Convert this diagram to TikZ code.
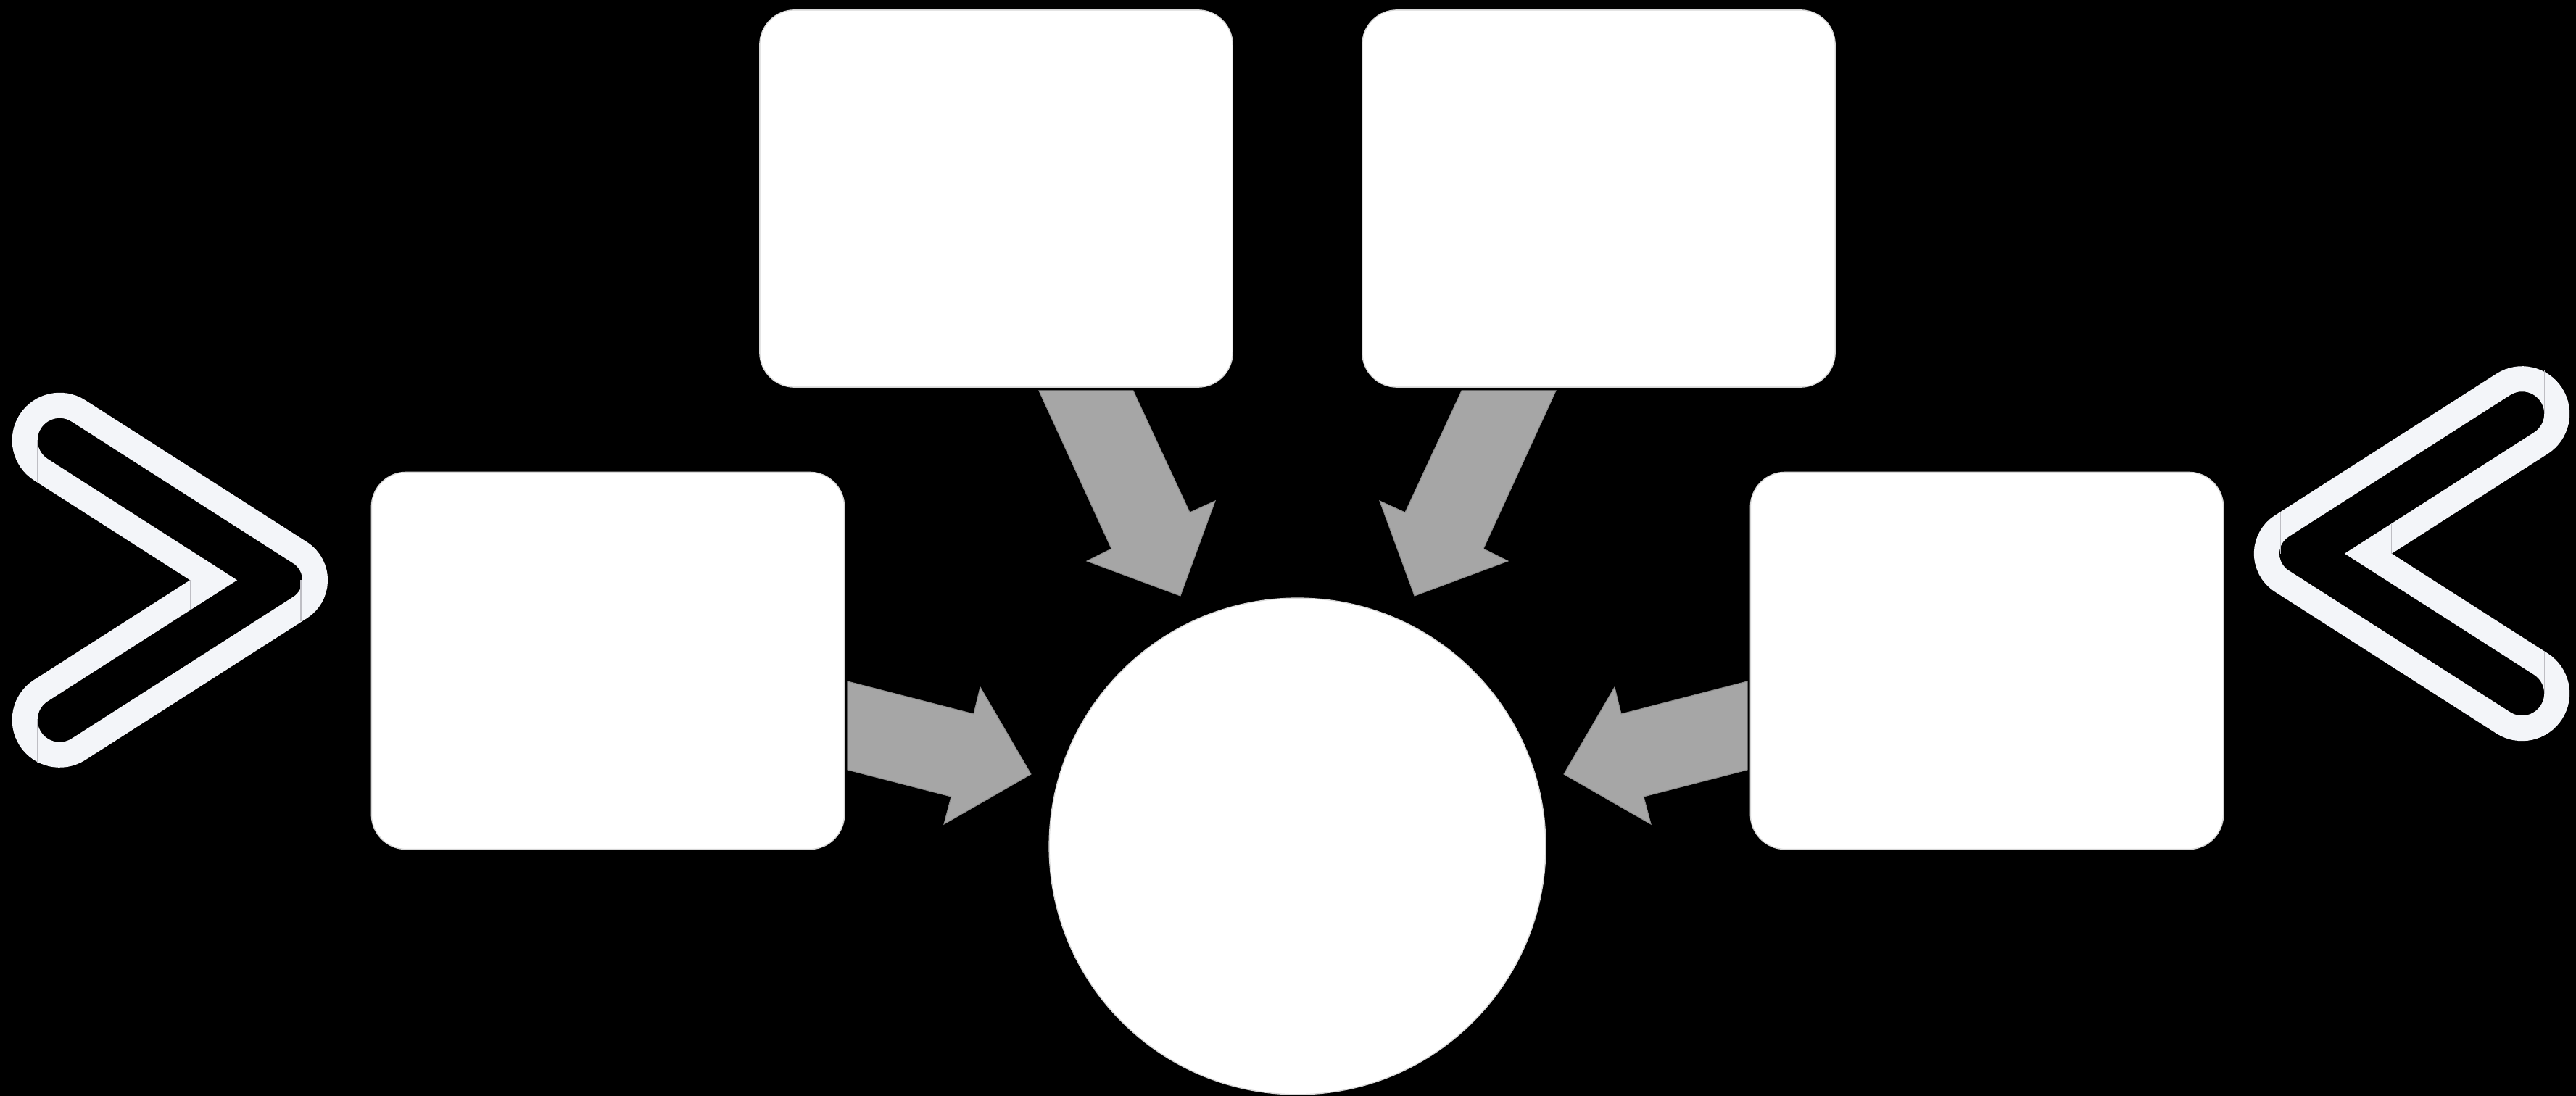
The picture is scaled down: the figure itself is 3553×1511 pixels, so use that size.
\documentclass[tikz,border=0pt]{standalone}
\usetikzlibrary{calc}
\definecolor{chevcol}{RGB}{243,245,249}
\definecolor{seamcol}{RGB}{190,190,196}
\definecolor{arrowfill}{RGB}{166,166,166}
\definecolor{arrowline}{RGB}{140,140,140}
\definecolor{boxline}{RGB}{215,215,215}
\tikzset{
  box/.style={draw=boxline, line width=0.4pt, fill=white, rounded corners=0.48cm,
    minimum width=6.52cm, minimum height=5.20cm, inner sep=0pt},
  hub/.style={circle, fill=white, draw=boxline, line width=0.4pt, minimum size=6.844cm, inner sep=0pt},
  blockarrow/.style={fill=arrowfill, draw=arrowline, line width=0.3pt, line join=miter},
  chevband/.style={draw=chevcol, line width=0.35cm, line join=miter, miter limit=10},
  seam/.style={draw=seamcol, line width=0.3pt}
}
\newcommand{\chevronshape}{%
  \draw[chevband] (0,0) -- (-238.2,152.4)
    arc[start angle=237.4, end angle=57.4, radius=48.1]
    -- (119.2,37.9)
    arc[start angle=57.4, end angle=-57.4, radius=45]
    -- (-186.4,-233.4)
    arc[start angle=302.6, end angle=122.6, radius=48.1]
    -- cycle;
  \draw[seam] (-242.9,134.9) -- (-242.9,192.9);
  \draw[seam] (-242.9,-192.9) -- (-242.9,-252.9);
  \draw[seam] (-32.5,0) -- (-32.5,-42);
  \draw[seam] (120.4,0) -- (120.4,-57);
}
\begin{document}
\begin{tikzpicture}[x=0.01cm, y=0.01cm]
  \useasboundingbox (0,0) rectangle (3553,1511);
  \fill[black] (-20,-20) rectangle (3573,1531);

  % boxes and hub
  \node[box] (tl) at (1374,1237) {};
  \node[box] (tr) at (2205,1237) {};
  \node[box] (lb) at (838.5,599.5) {};
  \node[box] (rb) at (2740.5,599.5) {};
  \node[hub] (hub) at (1789.5,343.5) {};

  % block arrows
  \draw[blockarrow] (1169,571) -- (1343,526) -- (1352,563) -- (1422,443)
     -- (1302,374) -- (1312,412) -- (1169,449) -- cycle;
  \draw[blockarrow] (2410,571) -- (2236,526) -- (2227,563) -- (2157,443)
     -- (2277,374) -- (2267,412) -- (2410,449) -- cycle;
  \draw[blockarrow] (1433,972) -- (1563,972) -- (1641,804) -- (1676,820)
     -- (1628,689) -- (1499,737) -- (1533,754) -- cycle;
  \draw[blockarrow] (2146,972) -- (2016,972) -- (1938,804) -- (1903,820)
     -- (1951,689) -- (2080,737) -- (2046,754) -- cycle;

  % chevrons
  \begin{scope}[shift={(294.6,710.7)}]
    \chevronshape
  \end{scope}
  \begin{scope}[shift={(3266.3,747.3)}, rotate=180]
    \chevronshape
  \end{scope}
\end{tikzpicture}
\end{document}
